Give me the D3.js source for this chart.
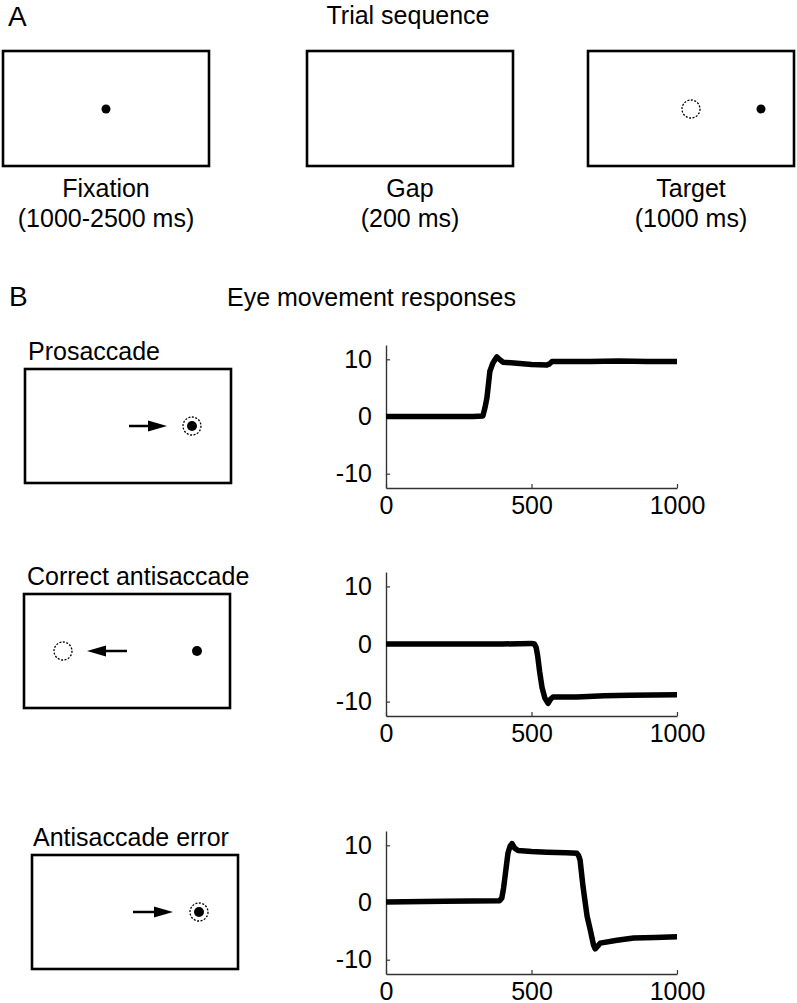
<!DOCTYPE html>
<html>
<head>
<meta charset="utf-8">
<script src="https://cdn.jsdelivr.net/npm/d3@7"></script>
<style>
  body { margin: 0; background: #fff; }
  svg text { font-family: "Liberation Sans", Arial, sans-serif; fill: #000; }
</style>
</head>
<body>
<div id="chart"></div>
<script>
// trial sequence (panel A)
var stages = ['Fixation', 'Gap', 'Target'],
    durations = ['(1000-2500 ms)', '(200 ms)', '(1000 ms)'];

// response types (panel B)
var responses = ['Prosaccade', 'Correct antisaccade', 'Antisaccade error'];

// axis ticks
var timeTicks = [0, 500, 1000],
    posTicks = [-10, 0, 10];

// eye position traces (ms, deg)
var proTime = [0, 100, 200, 300, 333, 340, 347, 357, 367, 375, 381, 390, 402, 450, 500, 553, 562, 570, 600, 700, 800, 900, 1000];
var proPos  = [0, 0, 0, 0, 0.1, 1.5, 3.3, 7.9, 9.3, 10.0, 10.4, 10.0, 9.5, 9.3, 9.1, 9.0, 9.2, 9.6, 9.6, 9.6, 9.7, 9.6, 9.6];

var antiTime = [0, 200, 400, 500, 510, 516, 521, 528, 536, 546, 557, 565, 574, 656, 750, 838, 1000];
var antiPos  = [0, 0, 0, 0.1, 0, -0.6, -2.0, -4.8, -7.5, -9.4, -10.3, -9.6, -9.2, -9.2, -9.0, -8.9, -8.8];

var errTime = [0, 200, 390, 398, 404, 409, 419, 426, 433, 442, 454, 500, 553, 620, 656, 662, 667, 677, 691, 702, 713, 719, 728, 736, 794, 851, 925, 1000];
var errPos  = [0.1, 0.2, 0.3, 0.8, 2.5, 4.5, 8.6, 9.8, 10.3, 9.5, 9.1, 8.9, 8.8, 8.7, 8.6, 8.2, 7.4, 2.8, -2.4, -4.8, -7.4, -8.1, -7.6, -7.1, -6.6, -6.2, -6.1, -6.0];

var width = 797,
    height = 1003,
    fontSize = 25;

var svg = d3.select('#chart').append('svg')
    .attr('width', width)
    .attr('height', height);

svg.append('rect').attr('width', width).attr('height', height).attr('fill', '#fff');

function label(x, y, txt, size, anchor) {
    return svg.append('text')
        .attr('x', x).attr('y', y)
        .attr('font-size', size)
        .attr('text-anchor', anchor || 'start')
        .text(txt);
}

function screenBox(x, y, w, h) {
    var g = svg.append('g').attr('transform', 'translate(' + x + ',' + y + ')');
    g.append('rect')
        .attr('width', w).attr('height', h)
        .attr('fill', 'none')
        .attr('stroke', '#000')
        .attr('stroke-width', 2.6);
    return g;
}

function dot(g, cx, cy, r) {
    g.append('circle').attr('cx', cx).attr('cy', cy).attr('r', r).attr('fill', '#000');
}

function dashedRing(g, cx, cy) {
    g.append('circle').attr('cx', cx).attr('cy', cy).attr('r', 9)
        .attr('fill', 'none')
        .attr('stroke', '#000')
        .attr('stroke-width', 1.3)
        .attr('stroke-dasharray', '2,1.5');
}

function arrow(g, x0, x1, y) {
    var dir = x1 > x0 ? 1 : -1;
    var headLen = 19, headW = 5.5;
    g.append('line')
        .attr('x1', x0).attr('y1', y)
        .attr('x2', x1 - dir * headLen).attr('y2', y)
        .attr('stroke', '#000').attr('stroke-width', 2.5);
    g.append('path')
        .attr('d', 'M' + x1 + ',' + y + 'L' + (x1 - dir * headLen) + ',' + (y - headW) +
                   'L' + (x1 - dir * headLen) + ',' + (y + headW) + 'Z')
        .attr('fill', '#000');
}

// ---- panel A ----
label(8, 26, 'A', 28);
label(408, 24, 'Trial sequence', fontSize, 'middle');

var topX = [3, 307, 588];
topX.forEach(function(x, i) {
    var g = screenBox(x, 51, 206, 115);
    if (i == 0) dot(g, 103, 58, 4.5);
    if (i == 2) {
        dashedRing(g, 103, 58);
        dot(g, 173, 58, 4.5);
    }
    label(x + 103, 197, stages[i], fontSize, 'middle');
    label(x + 103, 227, durations[i], fontSize, 'middle');
});

// ---- panel B ----
label(9, 306, 'B', 28);
label(227, 306, 'Eye movement responses', fontSize);

var boxes = [
    { x: 25, y: 369, lx: 28, ly: 360 },
    { x: 24, y: 594, lx: 27, ly: 585 },
    { x: 32, y: 855, lx: 33, ly: 846 }
];

boxes.forEach(function(b, i) {
    label(b.lx, b.ly, responses[i], fontSize);
    var g = screenBox(b.x, b.y, 206, 114);
    var cy = 57;
    if (i == 0) {
        arrow(g, 104, 142, cy);
        dashedRing(g, 167, cy);
        dot(g, 167, cy, 5);
    } else if (i == 1) {
        dashedRing(g, 39, cy);
        arrow(g, 103, 63, cy);
        dot(g, 173, cy, 5);
    } else {
        arrow(g, 101, 141, cy);
        dashedRing(g, 167, cy);
        dot(g, 167, cy, 5);
    }
});

// ---- traces ----
var traces = [
    { t: proTime, p: proPos, top: 345, bottom: 488 },
    { t: antiTime, p: antiPos, top: 572, bottom: 716 },
    { t: errTime, p: errPos, top: 831, bottom: 974 }
];

var x = d3.scaleLinear().domain([0, 1000]).range([386, 677]);
var plainNum = function(d) { return String(d); }; // hyphen minus, no thousands comma

traces.forEach(function(tr) {
    var y = d3.scaleLinear().domain([-12.5, 12.5]).range([tr.bottom, tr.top]);

    var yAxis = d3.axisLeft(y)
        .tickValues(posTicks)
        .tickFormat(plainNum)
        .tickSizeInner(-4)
        .tickSizeOuter(0)
        .tickPadding(14);
    var xAxis = d3.axisBottom(x)
        .tickValues(timeTicks)
        .tickFormat(plainNum)
        .tickSizeInner(-4)
        .tickSizeOuter(0)
        .tickPadding(8);

    var ya = svg.append('g')
        .attr('transform', 'translate(' + x(0) + ',0)')
        .call(yAxis);
    var xa = svg.append('g')
        .attr('transform', 'translate(0,' + tr.bottom + ')')
        .call(xAxis);

    [ya, xa].forEach(function(a) {
        a.select('.domain').attr('stroke', '#333').attr('stroke-width', 1.4);
        a.selectAll('.tick line').attr('stroke', '#333').attr('stroke-width', 1.2);
        a.selectAll('.tick text')
            .attr('font-size', fontSize)
            .attr('font-family', '"Liberation Sans", Arial, sans-serif')
            .attr('fill', '#000');
    });

    var pts = tr.t.map(function(t, i) { return [t, tr.p[i]]; });
    svg.append('path')
        .datum(pts)
        .attr('fill', 'none')
        .attr('stroke', '#000')
        .attr('stroke-width', 5.5)
        .attr('stroke-linejoin', 'round')
        .attr('stroke-linecap', 'butt')
        .attr('d', d3.line()
            .x(function(d) { return x(d[0]); })
            .y(function(d) { return y(d[1]); }));
});
</script>
</body>
</html>
